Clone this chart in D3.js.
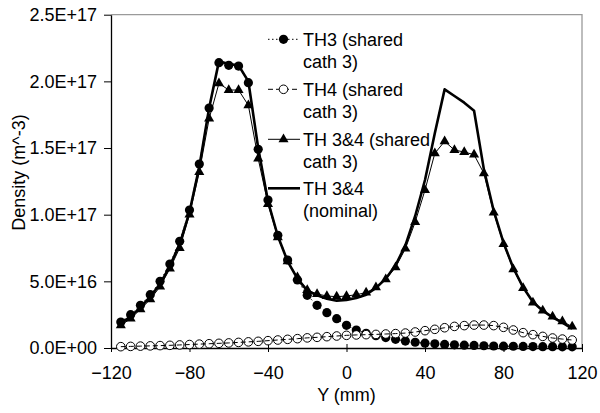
<!DOCTYPE html>
<html><head><meta charset="utf-8">
<script src="https://cdn.jsdelivr.net/npm/d3@7"></script>
<style>
html,body{margin:0;padding:0;background:#fff;}
svg text{font-family:"Liberation Sans",Arial,sans-serif;fill:#000;}
</style></head>
<body><svg id="c" width="600" height="413"></svg>
<script>
const UNIT = 1e16;
const yPos = [-115,-110,-105,-100,-95,-90,-85,-80,-75,-70,-65,-60,-55,-50,-45,-40,-35,-30,-25,-20,-15,-10,-5,0,5,10,15,20,25,30,35,40,45,50,55,60,65,70,75,80,85,90,95,100,105,110,115];
const th3 = [1.95,2.5,3.2,4.0,5.0,6.3,8.0,10.35,13.8,18.0,21.4,21.2,21.15,19.9,14.9,11.1,8.45,6.6,5.1,3.95,3.2,2.65,2.2,1.7,1.35,1.1,0.92,0.78,0.65,0.52,0.43,0.36,0.31,0.27,0.24,0.21,0.19,0.17,0.15,0.14,0.13,0.12,0.11,0.1,0.1,0.09,0.09];
const th4 = [0.1,0.12,0.14,0.16,0.18,0.2,0.23,0.26,0.29,0.32,0.35,0.38,0.42,0.46,0.5,0.55,0.6,0.65,0.7,0.76,0.8,0.85,0.9,0.95,0.98,1.0,1.02,1.05,1.08,1.12,1.2,1.3,1.4,1.52,1.62,1.68,1.72,1.72,1.68,1.55,1.35,1.15,1.0,0.87,0.75,0.67,0.6];
const th34shared = [1.7,2.2,2.9,3.65,4.6,5.95,7.5,10.0,13.2,17.2,19.85,19.35,19.35,18.2,14.2,10.8,8.3,6.5,5.3,4.35,4.05,3.9,3.85,3.9,4.0,4.15,4.55,5.15,6.05,7.45,9.45,11.85,14.6,15.5,14.85,14.7,14.5,13.1,10.15,7.8,5.9,4.5,3.4,2.8,2.35,2.0,1.6];
const th34nominal = [1.85,2.35,3.05,3.85,4.8,6.15,7.8,10.2,13.6,18.0,21.5,21.3,21.2,20.0,15.0,11.0,8.4,6.5,5.2,4.3,3.95,3.7,3.55,3.6,3.75,4.0,4.5,5.2,6.2,7.7,9.9,12.6,16.1,19.4,18.9,18.4,17.8,13.4,10.3,7.9,6.0,4.55,3.45,2.8,2.3,1.9,1.45];
const xTicks = [-120,-80,-40,0,40,80,120];
const yTicks = [0,5e16,1e17,1.5e17,2e17,2.5e17];
const seriesNames = [["TH3 (shared","cath 3)"],["TH4 (shared","cath 3)"],["TH 3&4 (shared","cath 3)"],["TH 3&4","(nominal)"]];
const xTitle = "Y (mm)";
const yTitle = "Density (m^-3)";

const FS = 18;
const L = 111, R = 582, T = 14.7, B = 348;
const svg = d3.select("#c");
const x = d3.scaleLinear().domain([-120,120]).range([L,R]);
const y = d3.scaleLinear().domain([0,2.5e17]).range([B,T]);

svg.append("path").attr("d",`M${L},${T}H${R}V${B}`).attr("fill","none").attr("stroke","#9a9a9a").attr("stroke-width",1.3);

const fmt = v => { const s = v.toExponential(1).toUpperCase(); const m = s.match(/^(.*)E([+-])(\d+)$/); return m[1]+"E"+m[2]+(m[3].length<2?"0"+m[3]:m[3]); };

const ya = svg.append("g").attr("transform",`translate(${L},0)`)
  .call(d3.axisLeft(y).tickValues(yTicks).tickFormat(fmt).tickSize(7).tickPadding(7).tickSizeOuter(0));
ya.select(".domain").attr("stroke","#000").attr("stroke-width",1.3);
ya.selectAll(".tick line").attr("stroke","#000");
ya.selectAll("text").style("font-size",FS+"px");

const xa = svg.append("g").attr("transform",`translate(0,${B})`)
  .call(d3.axisBottom(x).tickValues(xTicks).tickSize(4).tickSizeOuter(0));
xa.select(".domain").attr("stroke","#000").attr("stroke-width",1.3);
xa.selectAll(".tick line").attr("stroke","#000").attr("y1",-4).attr("y2",4);
xa.selectAll("text").style("font-size",FS+"px").attr("dy","0.71em").attr("y",18.2);

svg.append("text").attr("x",(L+R)/2).attr("y",401).attr("text-anchor","middle").style("font-size",FS+"px").text(xTitle);
svg.append("text").attr("transform","translate(25,172.5) rotate(-90)").attr("text-anchor","middle").style("font-size",FS+"px").text(yTitle);

const U = d => d*UNIT;
const line = d3.line().x((d,i)=>x(yPos[i])).y(d=>y(U(d)));
const plot = svg.append("g");
const tri = d3.symbol().type(d3.symbolTriangle).size(44);

plot.append("path").attr("d",line(th3)).attr("fill","none").attr("stroke","#000").attr("stroke-width",1).attr("stroke-dasharray","1.5,2.5");
plot.selectAll(".c3").data(th3).join("circle").attr("cx",(d,i)=>x(yPos[i])).attr("cy",d=>y(U(d))).attr("r",4.6).attr("fill","#000");
plot.selectAll(".c4").data(th4).join("circle").attr("cx",(d,i)=>x(yPos[i])).attr("cy",d=>y(U(d))).attr("r",4.3).attr("fill","#fff").attr("stroke","#000").attr("stroke-width",1);
plot.append("path").attr("d",line(th4)).attr("fill","none").attr("stroke","#000").attr("stroke-width",1).attr("stroke-dasharray","5,3");
plot.append("path").attr("d",line(th34shared)).attr("fill","none").attr("stroke","#000").attr("stroke-width",1);
plot.selectAll(".t34").data(th34shared).join("path").attr("d",tri).attr("transform",(d,i)=>`translate(${x(yPos[i])},${y(U(d))})`).attr("fill","#000");
plot.append("path").attr("d",line(th34nominal)).attr("fill","none").attr("stroke","#000").attr("stroke-width",2.6).attr("stroke-linejoin","round");

const lg = svg.append("g");
const ly = [39.3,89.3,139.3,188.3];
const sx0 = 268, sx1 = 300, mx = 283.5, tx = 303;
seriesNames.forEach((nm,k)=>{
  const yy = ly[k];
  const ln = lg.append("line").attr("x1",sx0).attr("x2",sx1).attr("y1",yy).attr("y2",yy).attr("stroke","#000");
  if(k===0){ ln.attr("stroke-dasharray","1.5,2.5"); lg.append("circle").attr("cx",mx).attr("cy",yy).attr("r",4.6).attr("fill","#000"); }
  if(k===1){ ln.attr("stroke-dasharray","5,3"); lg.append("circle").attr("cx",mx).attr("cy",yy).attr("r",4.3).attr("fill","#fff").attr("stroke","#000"); }
  if(k===2){ lg.append("path").attr("d",tri).attr("transform",`translate(${mx},${yy})`).attr("fill","#000"); }
  if(k===3){ ln.attr("stroke-width",2.6); }
  nm.forEach((t,j)=>lg.append("text").attr("x",tx).attr("y",yy+6.4+22*j).style("font-size",FS+"px").text(t));
});
</script></body></html>
